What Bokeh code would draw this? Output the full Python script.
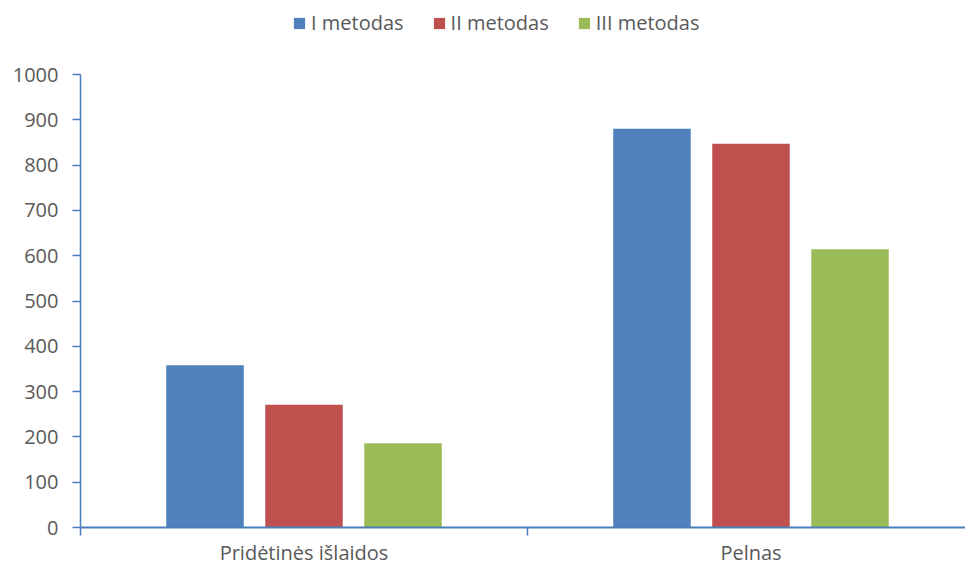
from bokeh.plotting import figure
from bokeh.models import ColumnDataSource, FixedTicker, Legend, LegendItem, Range1d
from bokeh.embed import file_html
from bokeh.resources import INLINE

categories = ["Pridėtinės išlaidos", "Pelnas"]
series = ["I metodas", "II metodas", "III metodas"]
values_I = [358, 880]
values_II = [271, 847]
values_III = [186, 614]
colors = ["#4F81BD", "#C0504D", "#9BBB59"]
y_ticks = [0, 100, 200, 300, 400, 500, 600, 700, 800, 900, 1000]
y_max = 1000

FONT = "Open Sans"
TXT = "#595959"
AXC = "#4A7EBB"

# layout constants (pixels)
FRAME_W = 885
FRAME_H = 527
AXIS_TOP_PX = 74
CAT_PX = 447
y_top = y_max * FRAME_H / (FRAME_H - AXIS_TOP_PX)
x_end = FRAME_W / CAT_PX

p = figure(width=965, height=568, output_backend="svg", toolbar_location=None,
           x_range=Range1d(0, x_end), y_range=Range1d(0, y_top),
           min_border_left=80, min_border_right=0, min_border_top=0, min_border_bottom=41)
p.outline_line_color = None
p.xgrid.visible = False
p.ygrid.visible = False

offsets = [-0.2215, 0.0, 0.2215]
bar_w = 0.1734
items = []
for s, vals, off, c in zip(series, [values_I, values_II, values_III], offsets, colors):
    src = ColumnDataSource(dict(x=[i + 0.5 + off for i in range(len(categories))], top=vals))
    r = p.vbar(x="x", top="top", bottom=0, width=bar_w, source=src, fill_color=c, line_color=None)
    items.append(LegendItem(label=s, renderers=[r]))

p.xaxis.ticker = FixedTicker(ticks=[i + 0.5 for i in range(len(categories))],
                             minor_ticks=list(range(len(categories) + 1)))
p.xaxis.major_label_overrides = {i + 0.5: c for i, c in enumerate(categories)}
p.xaxis.major_tick_out = 0
p.xaxis.major_tick_in = 0
p.xaxis.minor_tick_out = 8
p.xaxis.minor_tick_in = 0
p.xaxis.minor_tick_line_color = AXC
p.xaxis.axis_line_color = AXC
p.xaxis.axis_line_width = 2
p.xaxis.minor_tick_line_width = 1.5
p.xaxis.major_label_text_font = FONT
p.xaxis.major_label_text_font_size = "20px"
p.xaxis.major_label_text_color = TXT
p.xaxis.major_label_text_baseline = "hanging"
p.xaxis.major_label_standoff = 3

p.yaxis.ticker = FixedTicker(ticks=y_ticks)
p.yaxis.bounds = (0, y_max)
p.yaxis.major_tick_out = 8
p.yaxis.major_tick_in = 0
p.yaxis.minor_tick_line_color = None
p.yaxis.major_tick_line_color = AXC
p.yaxis.axis_line_color = AXC
p.yaxis.axis_line_width = 1.5
p.yaxis.major_tick_line_width = 1.5
p.yaxis.major_label_text_font = FONT
p.yaxis.major_label_text_font_size = "20px"
p.yaxis.major_label_text_color = TXT
p.yaxis.major_label_standoff = 14

legend = Legend(items=items, orientation="horizontal", location=(212, 491),
                glyph_width=14, glyph_height=14, label_standoff=5, spacing=28,
                label_text_font=FONT, label_text_font_size="20px", label_text_color=TXT,
                border_line_color=None, background_fill_alpha=0, padding=0, margin=0)
p.add_layout(legend, "center")

open("out.html", "w").write(file_html(p, INLINE))
